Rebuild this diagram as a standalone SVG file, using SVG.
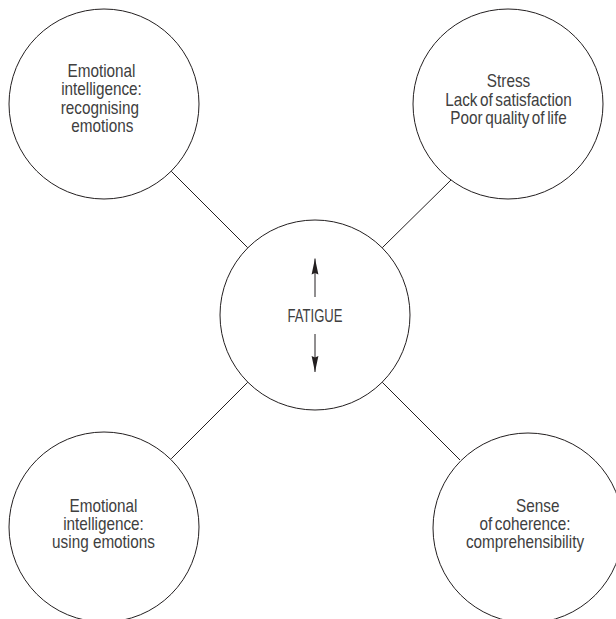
<svg xmlns="http://www.w3.org/2000/svg" width="616" height="619" viewBox="0 0 616 619">
  <defs>
    <style>
      .bubble { fill: #ffffff; stroke: #231f20; stroke-width: 1; }
      .link { stroke: #231f20; stroke-width: 1; fill: none; }
      .label { font-family: "Liberation Sans", Arial, sans-serif; font-size: 18px; fill: #404040; text-anchor: middle; }
    </style>
    <marker id="head" viewBox="0 0 16 8" refX="16" refY="4" markerWidth="16" markerHeight="8" markerUnits="userSpaceOnUse" orient="auto">
      <path d="M0,0.6 L16,4 L0,7.4 L1.5,4 Z" fill="#231f20"/>
    </marker>
  </defs>
  <rect width="616" height="619" fill="#ffffff"/>

  <!-- connectors between the centre and the four outer bubbles -->
  <g id="connectors">
    <line class="link" x1="171.2" y1="171.2" x2="247.8" y2="247.8"/>
    <line class="link" x1="382.2" y1="247.8" x2="451" y2="180"/>
    <line class="link" x1="247.8" y1="382.2" x2="171.2" y2="458.8"/>
    <line class="link" x1="382.2" y1="382.2" x2="460" y2="460"/>
  </g>

  <g id="node-recognising">
    <circle class="bubble" cx="104" cy="104" r="95"/>
    <g transform="translate(101.5,0) scale(0.85,1)">
      <text class="label" x="0" y="77">Emotional</text>
      <text class="label" x="0" y="95.5">intelligence:</text>
      <text class="label" x="-2" y="114">recognising</text>
      <text class="label" x="1" y="132.5">emotions</text>
    </g>
  </g>

  <g id="node-stress">
    <circle class="bubble" cx="508" cy="104" r="95"/>
    <g transform="translate(508.5,0) scale(0.85,1)">
      <text class="label" x="0" y="87.3">Stress</text>
      <text class="label" x="0" y="105.7" word-spacing="-2">Lack of satisfaction</text>
      <text class="label" x="0" y="124" word-spacing="-2">Poor quality of life</text>
    </g>
  </g>

  <g id="node-fatigue">
    <circle class="bubble" cx="315" cy="315" r="95"/>
    <line class="link" x1="315" y1="297" x2="315" y2="258.5" marker-end="url(#head)"/>
    <line class="link" x1="315" y1="334" x2="315" y2="372" marker-end="url(#head)"/>
    <text class="label" x="315" y="322.3" textLength="55" lengthAdjust="spacingAndGlyphs">FATIGUE</text>
  </g>

  <g id="node-using">
    <circle class="bubble" cx="104" cy="527" r="95"/>
    <g transform="translate(103.5,0) scale(0.85,1)">
      <text class="label" x="0" y="511.6">Emotional</text>
      <text class="label" x="0" y="530">intelligence:</text>
      <text class="label" x="0" y="548.4">using emotions</text>
    </g>
  </g>

  <g id="node-coherence">
    <circle class="bubble" cx="528" cy="528" r="95"/>
    <g transform="translate(525,0) scale(0.85,1)">
      <text class="label" x="15" y="511.6">Sense</text>
      <text class="label" x="0" y="530" word-spacing="-2">of coherence:</text>
      <text class="label" x="0" y="548.4">comprehensibility</text>
    </g>
  </g>
</svg>
